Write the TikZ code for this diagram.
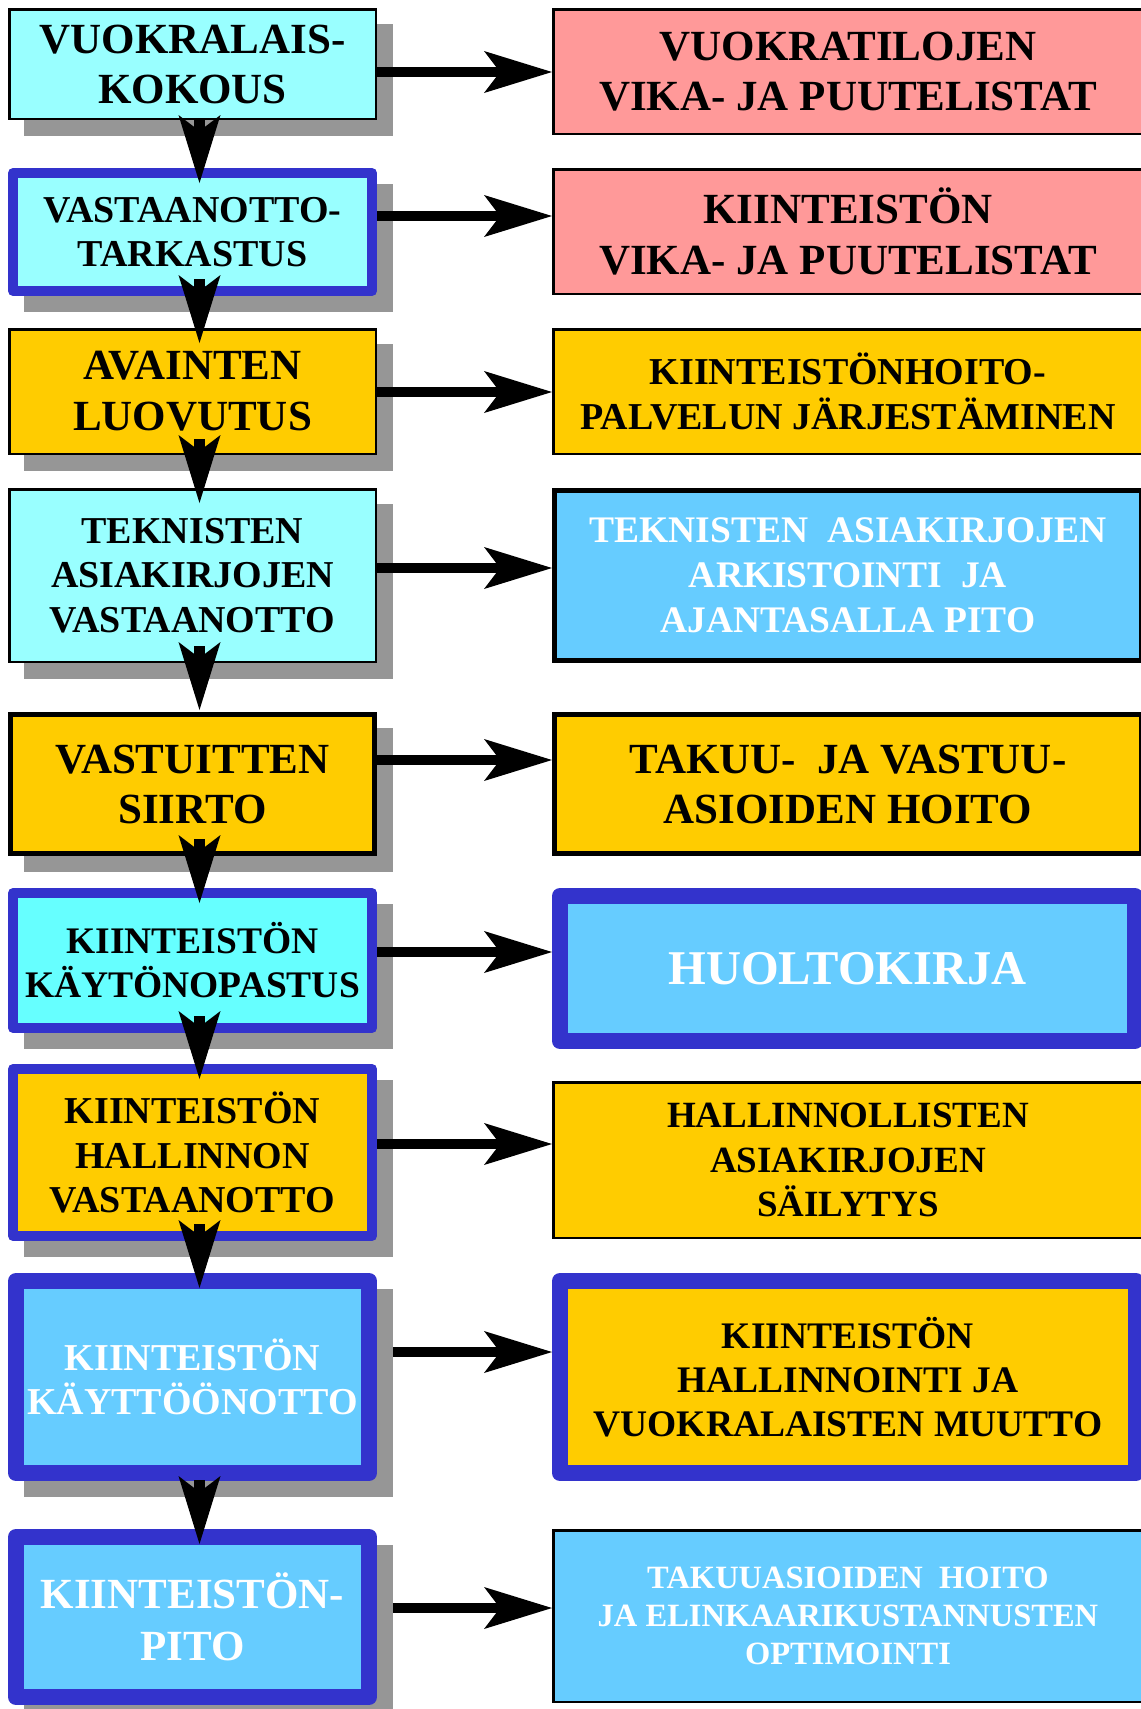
\documentclass[tikz,border=0pt]{standalone}
\usepackage{fontspec}
\setmainfont{Liberation Serif}
\usetikzlibrary{arrows.meta,backgrounds}

\definecolor{paleCyan}{HTML}{99FFFF}
\definecolor{brightCyan}{HTML}{66FFFF}
\definecolor{skyBlue}{HTML}{66CCFF}
\definecolor{gold}{HTML}{FFCC00}
\definecolor{rose}{HTML}{FF9999}
\definecolor{frameBlue}{HTML}{3333CC}
\definecolor{shadowGray}{HTML}{969696}

\tikzset{
  box/.style={rectangle, inner sep=0pt, align=center},
  plainbox/.style={box, draw=black, line width=2.5pt, outer sep=1.25pt},
  heavybox/.style={box, draw=black, line width=5pt, outer sep=2.5pt},
  blueframe/.style={box, draw=frameBlue, line width=10pt, outer sep=5pt, line join=round},
  wideblueframe/.style={box, draw=frameBlue, line width=16pt, outer sep=8pt, line join=round},
  fs/.style 2 args={font=\bfseries\fontsize{#1}{#2}\selectfont},
  flow/.style={line width=10.5pt, -{Stealth[length=68pt,width=42pt,inset=16pt,line width=0pt]}},
  dropshade/.style={fill=shadowGray},
}

\begin{document}
\begin{tikzpicture}[x=1pt,y=-1pt]
\useasboundingbox (0,0) rectangle (1141,1709);

% ---- left column: the steps of the handover ----
\node[plainbox, fill=paleCyan, fs={43}{50}, minimum width=366.5pt, minimum height=109.5pt]
  (l1) at (192.5,64) {VUOKRALAIS-\\KOKOUS};
\node[blueframe, fill=paleCyan, fs={38}{44}, minimum width=359pt, minimum height=118pt]
  (l2) at (192.5,232) {VASTAANOTTO-\\TARKASTUS};
\node[plainbox, fill=gold, fs={43}{51}, minimum width=366.5pt, minimum height=124.5pt]
  (l3) at (192.5,391.5) {AVAINTEN\\LUOVUTUS};
\node[plainbox, fill=paleCyan, fs={38}{44.5}, minimum width=366.5pt, minimum height=172.5pt]
  (l4) at (192.5,575.5) {TEKNISTEN\\ASIAKIRJOJEN\\VASTAANOTTO};
\node[heavybox, fill=gold, fs={43}{50}, minimum width=364pt, minimum height=139pt]
  (l5) at (192.5,784) {VASTUITTEN\\SIIRTO};
\node[blueframe, fill=brightCyan, fs={37.5}{44}, minimum width=359pt, minimum height=135pt]
  (l6) at (192.5,960.5) {KIINTEISTÖN\\KÄYTÖNOPASTUS};
\node[blueframe, fill=gold, fs={38}{44.5}, minimum width=359pt, minimum height=167pt]
  (l7) at (192.5,1152.5) {KIINTEISTÖN\\HALLINNON\\VASTAANOTTO};
\node[wideblueframe, fill=skyBlue, text=white, fs={38}{44}, minimum width=353pt, minimum height=192pt]
  (l8) at (192.5,1377) {KIINTEISTÖN\\KÄYTTÖÖNOTTO};
\node[wideblueframe, fill=skyBlue, text=white, fs={43}{52}, minimum width=353pt, minimum height=160pt]
  (l9) at (192.5,1617) {KIINTEISTÖN-\\PITO};

% ---- right column: what each step produces ----
\node[plainbox, fill=rose, fs={43}{50}, minimum width=589.5pt, minimum height=124.5pt]
  (r1) at (848,71.5) {VUOKRATILOJEN\\VIKA- JA PUUTELISTAT};
\node[plainbox, fill=rose, fs={43}{51}, minimum width=589.5pt, minimum height=124.5pt]
  (r2) at (848,231.5) {KIINTEISTÖN\\VIKA- JA PUUTELISTAT};
\node[plainbox, fill=gold, fs={38}{45}, minimum width=589.5pt, minimum height=124.5pt]
  (r3) at (848,391.5) {KIINTEISTÖNHOITO-\\PALVELUN JÄRJESTÄMINEN};
\node[heavybox, fill=skyBlue, text=white, fs={37.5}{45}, minimum width=587pt, minimum height=170pt]
  (r4) at (848,575.5) {TEKNISTEN\ \ ASIAKIRJOJEN\\ARKISTOINTI\ \ JA\\AJANTASALLA PITO};
\node[heavybox, fill=gold, fs={43}{50}, minimum width=587pt, minimum height=139pt]
  (r5) at (848,784) {TAKUU-\ \ JA VASTUU-\\ASIOIDEN HOITO};
\node[wideblueframe, fill=skyBlue, text=white, fs={48.5}{56}, minimum width=575pt, minimum height=145pt]
  (r6) at (847.5,968.5) {HUOLTOKIRJA};
\node[plainbox, fill=gold, fs={37}{44.5}, minimum width=589.5pt, minimum height=155.5pt]
  (r7) at (848,1160) {HALLINNOLLISTEN\\ASIAKIRJOJEN\\SÄILYTYS};
\node[wideblueframe, fill=gold, fs={37.5}{44}, minimum width=576pt, minimum height=192pt]
  (r8) at (848,1377) {KIINTEISTÖN\\HALLINNOINTI JA\\VUOKRALAISTEN MUUTTO};
\node[plainbox, fill=skyBlue, text=white, fs={32.5}{38}, minimum width=589.5pt, minimum height=171.5pt]
  (r9) at (848,1616) {TAKUUASIOIDEN\ \ HOITO\\JA ELINKAARIKUSTANNUSTEN\\OPTIMOINTI};

% ---- flow down the left column ----
\draw[flow] ([xshift=7pt,yshift=1pt]l1.south)  -- ([xshift=7pt,yshift=-15pt]l2.north);
\draw[flow] ([xshift=7pt,yshift=17pt]l2.south) -- ([xshift=7pt,yshift=-15pt]l3.north);
\draw[flow] ([xshift=7pt,yshift=16pt]l3.south) -- ([xshift=7pt,yshift=-15pt]l4.north);
\draw[flow] ([xshift=7pt,yshift=17pt]l4.south) -- ([xshift=7pt,yshift=2pt]l5.north);
\draw[flow] ([xshift=7pt,yshift=17pt]l5.south) -- ([xshift=7pt,yshift=-15pt]l6.north);
\draw[flow] ([xshift=7pt,yshift=17pt]l6.south) -- ([xshift=7pt,yshift=-15pt]l7.north);
\draw[flow] ([xshift=7pt,yshift=17pt]l7.south) -- ([xshift=7pt,yshift=-15pt]l8.north);
\draw[flow] ([xshift=7pt,yshift=1pt]l8.south)  -- ([xshift=7pt,yshift=-15pt]l9.north);

% ---- from each step across to its result ----
\coordinate (s8) at ([xshift=16pt]l8.east);
\coordinate (s9) at ([xshift=16pt]l9.east);
\draw[flow] (l1.east |- 0,72)   -- (r1.west |- 0,72);
\draw[flow] (l2.east |- 0,216)  -- (r2.west |- 0,216);
\draw[flow] (l3.east |- 0,392)  -- (r3.west |- 0,392);
\draw[flow] (l4.east |- 0,568)  -- (r4.west |- 0,568);
\draw[flow] (l5.east |- 0,760)  -- (r5.west |- 0,760);
\draw[flow] (l6.east |- 0,952)  -- (r6.west |- 0,952);
\draw[flow] (l7.east |- 0,1144) -- (r7.west |- 0,1144);
\draw[flow] (s8 |- 0,1352)      -- (r8.west |- 0,1352);
\draw[flow] (s9 |- 0,1608)      -- (r9.west |- 0,1608);

% ---- page and drop shadows behind the left column ----
\begin{pgfonlayer}{background}
  \fill[white] (0,0) rectangle (1141,1709);
  \foreach \n in {l1,l2,l3,l4,l5,l6,l7,l8,l9}
    \fill[dropshade] ([xshift=16pt,yshift=-16pt]\n.north west)
                     rectangle ([xshift=16pt,yshift=-16pt]\n.south east);
\end{pgfonlayer}
\end{tikzpicture}
\end{document}
